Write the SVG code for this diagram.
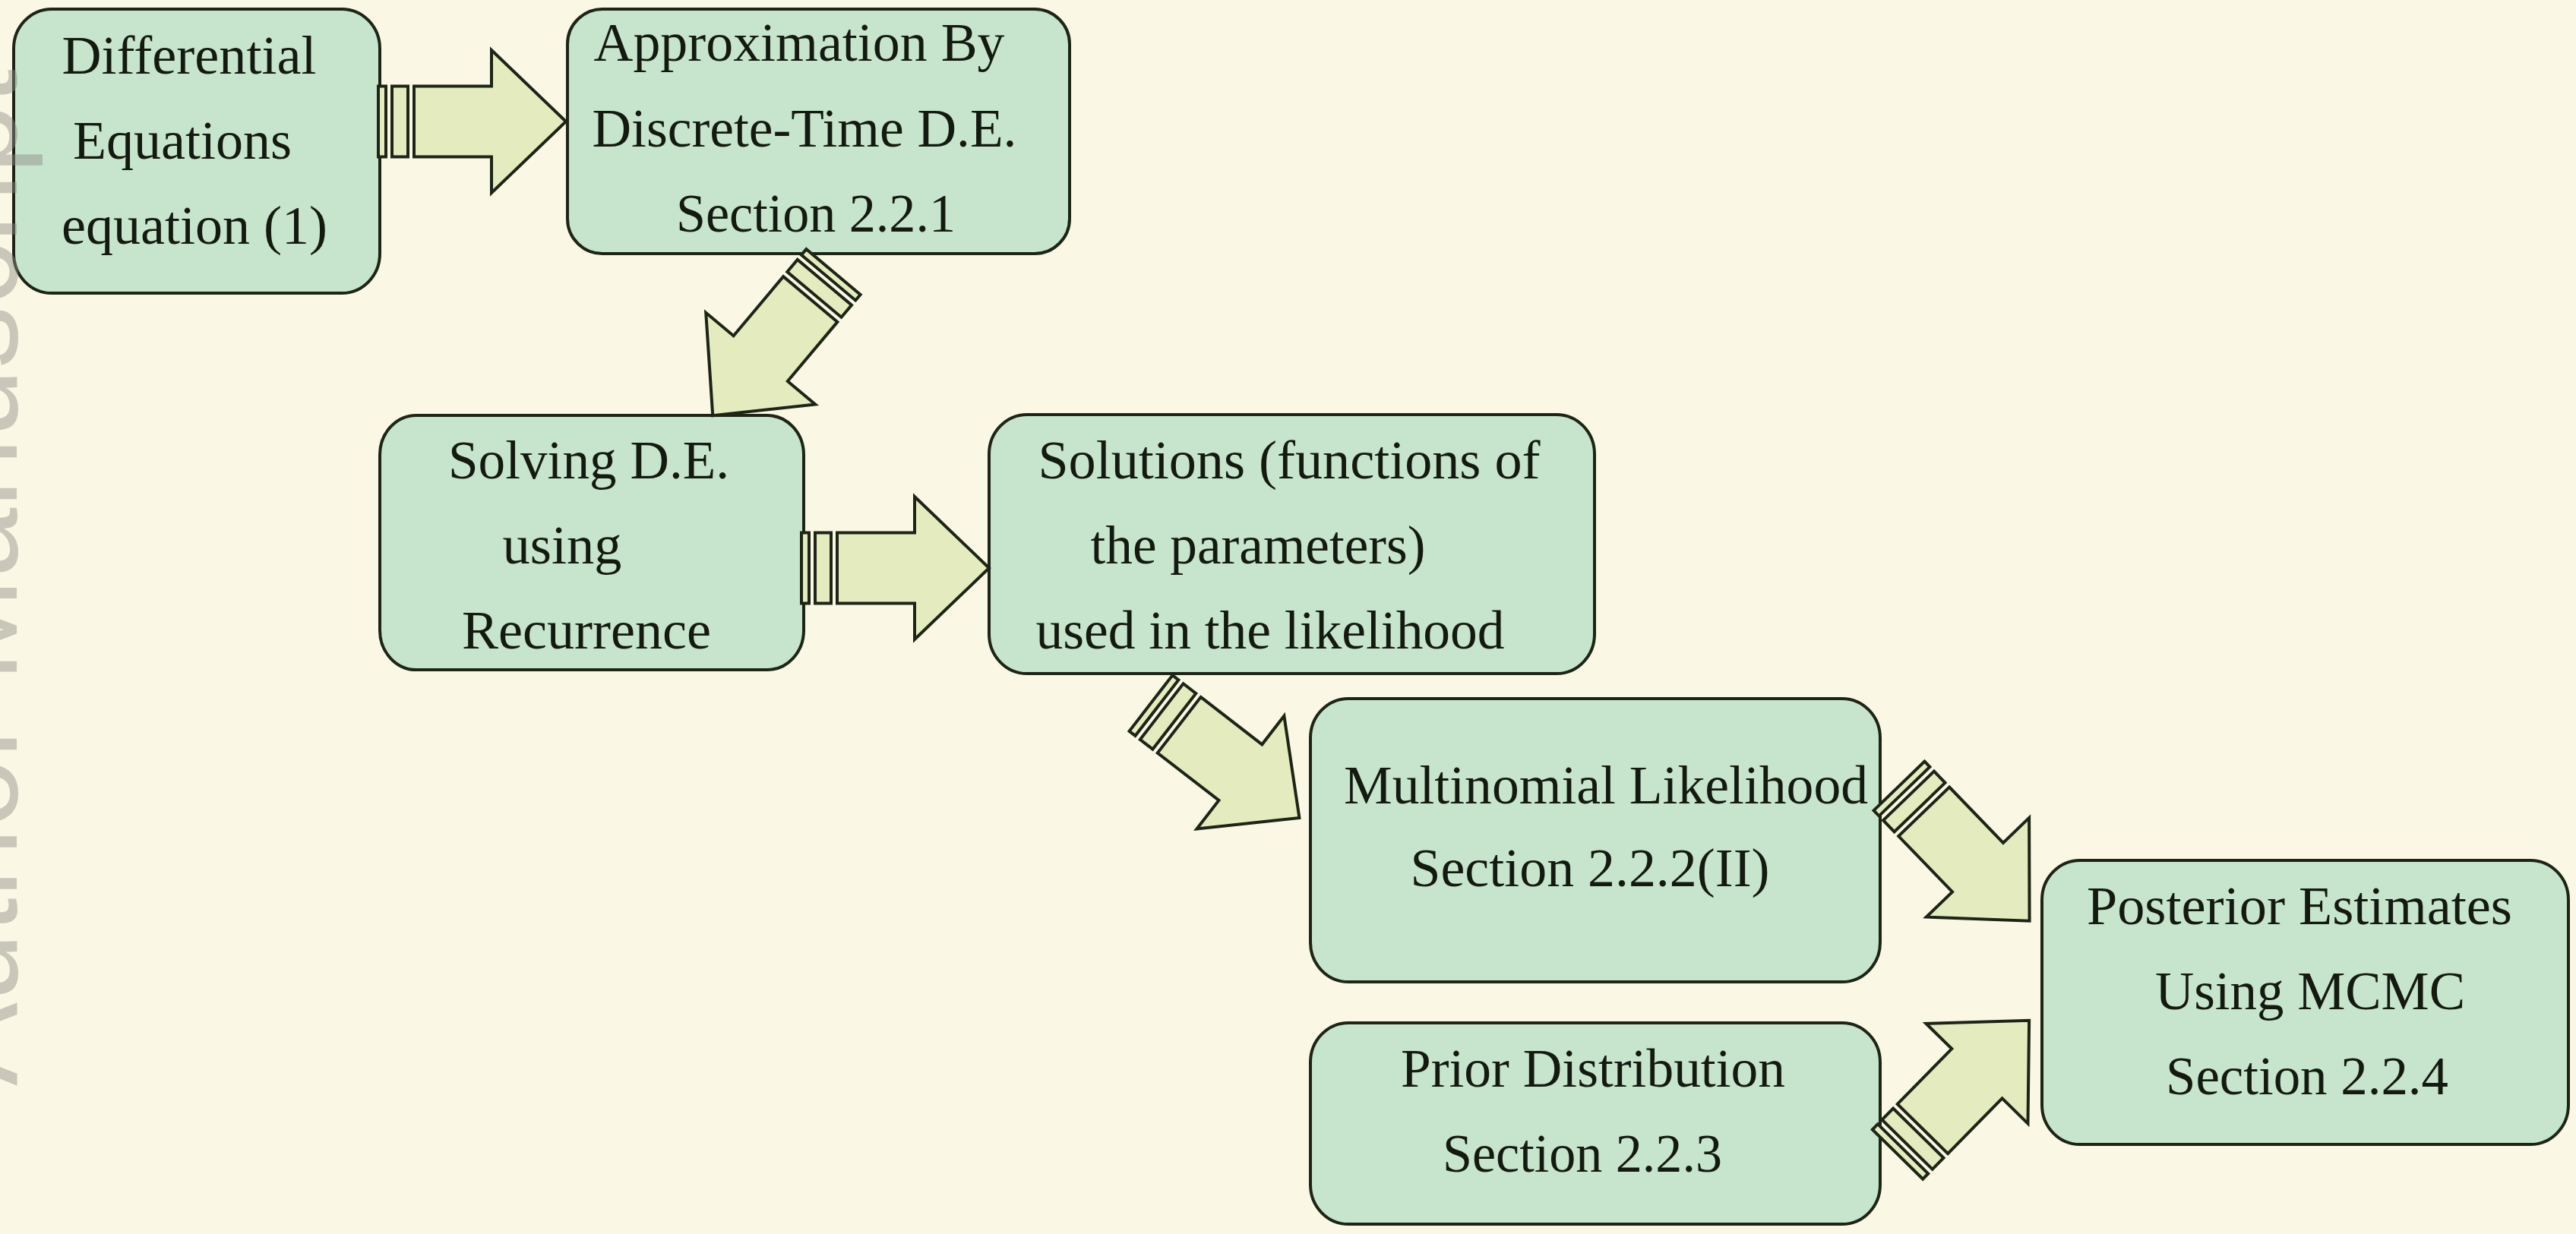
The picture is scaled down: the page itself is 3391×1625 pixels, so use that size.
<svg xmlns="http://www.w3.org/2000/svg" xmlns:xlink="http://www.w3.org/1999/xlink" width="3391" height="1625" viewBox="0 0 3391 1625">
<style>
.node{fill:#c7e5cd;stroke:#1e2416;stroke-width:4}
.lbl{font-family:"Liberation Serif","Times New Roman",serif;font-size:72px;fill:#141a10;text-anchor:middle}
.arr{fill:#e3ebbf;stroke:#1e2416;stroke-width:4;stroke-linejoin:miter}
.wm{font-family:"Liberation Sans",Arial,sans-serif;font-size:165px;fill:#8c8c85;opacity:0.45}
</style>
<defs>
<g id="sarrow">
<rect class="arr" x="0" y="-46.5" width="10" height="93"/>
<rect class="arr" x="18" y="-46.5" width="21" height="93"/>
<path class="arr" d="M47,-46.5 H149 V-94 L247,0 L149,94 V46.5 H47 Z"/>
</g>
</defs>
<rect x="0" y="0" width="3391" height="1625" fill="#faf8e5"/>

<g id="n1">
<rect class="node" x="18" y="12" width="482" height="374" rx="50" ry="52"/>
<text class="lbl" x="249" y="97" textLength="335" lengthAdjust="spacingAndGlyphs">Differential</text>
<text class="lbl" x="240" y="209">Equations</text>
<text class="lbl" x="256" y="321">equation (1)</text>
</g>
<g id="n2">
<rect class="node" x="747" y="12" width="661" height="322" rx="46" ry="46"/>
<text class="lbl" x="1052" y="80" textLength="541" lengthAdjust="spacingAndGlyphs">Approximation By</text>
<text class="lbl" x="1059" y="193" textLength="559" lengthAdjust="spacingAndGlyphs">Discrete-Time D.E.</text>
<text class="lbl" x="1074" y="305" textLength="368" lengthAdjust="spacingAndGlyphs">Section 2.2.1</text>
</g>
<g id="n3">
<rect class="node" x="500" y="547" width="558" height="335" rx="48" ry="52"/>
<text class="lbl" x="775" y="630" textLength="370" lengthAdjust="spacingAndGlyphs">Solving D.E.</text>
<text class="lbl" x="740" y="742" textLength="157" lengthAdjust="spacingAndGlyphs">using</text>
<text class="lbl" x="772" y="854" textLength="328" lengthAdjust="spacingAndGlyphs">Recurrence</text>
</g>
<g id="n4">
<rect class="node" x="1302" y="546" width="797" height="341" rx="50" ry="52"/>
<text class="lbl" x="1697" y="630" textLength="661" lengthAdjust="spacingAndGlyphs">Solutions (functions of</text>
<text class="lbl" x="1656" y="742" textLength="441" lengthAdjust="spacingAndGlyphs">the parameters)</text>
<text class="lbl" x="1672" y="854" textLength="617" lengthAdjust="spacingAndGlyphs">used in the likelihood</text>
</g>
<g id="n5">
<rect class="node" x="1725" y="920" width="750" height="373" rx="50" ry="52"/>
<text class="lbl" x="2114" y="1058" textLength="690" lengthAdjust="spacingAndGlyphs">Multinomial Likelihood</text>
<text class="lbl" x="2093" y="1167" textLength="473" lengthAdjust="spacingAndGlyphs">Section 2.2.2(II)</text>
</g>
<g id="n6">
<rect class="node" x="1725" y="1347" width="750" height="265" rx="50" ry="52"/>
<text class="lbl" x="2097" y="1431" textLength="506" lengthAdjust="spacingAndGlyphs">Prior Distribution</text>
<text class="lbl" x="2083" y="1543" textLength="368" lengthAdjust="spacingAndGlyphs">Section 2.2.3</text>
</g>
<g id="n7">
<rect class="node" x="2688" y="1133" width="693" height="374" rx="50" ry="52"/>
<text class="lbl" x="3027" y="1217" textLength="560" lengthAdjust="spacingAndGlyphs">Posterior Estimates</text>
<text class="lbl" x="3041" y="1329" textLength="408" lengthAdjust="spacingAndGlyphs">Using MCMC</text>
<text class="lbl" x="3037" y="1441" textLength="372" lengthAdjust="spacingAndGlyphs">Section 2.2.4</text>
</g>

<g id="connectors">
<use xlink:href="#sarrow" transform="translate(498,160)"/>
<use xlink:href="#sarrow" transform="translate(1097,358) rotate(130)"/>
<use xlink:href="#sarrow" transform="translate(1055,748)"/>
<use xlink:href="#sarrow" transform="translate(1515,926) rotate(37.7)"/>
<use xlink:href="#sarrow" transform="translate(2500,1035) rotate(46)"/>
<use xlink:href="#sarrow" transform="translate(2498,1520) rotate(-45.5)"/>
</g>

<text class="wm" transform="translate(22,1430) rotate(-90)">Author Manuscript</text>
</svg>
